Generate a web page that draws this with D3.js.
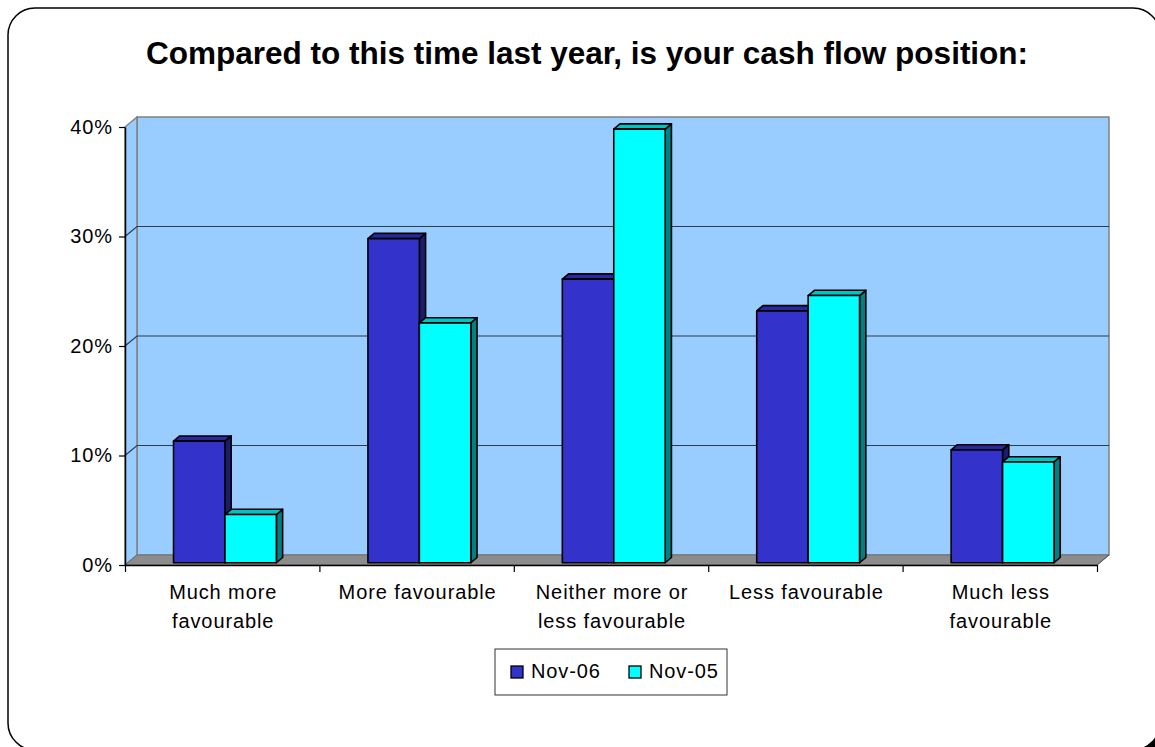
<!DOCTYPE html>
<html>
<head>
<meta charset="utf-8">
<script src="https://cdn.jsdelivr.net/npm/d3@7"></script>
<style>
  html, body { margin: 0; padding: 0; background: #ffffff; }
  svg { display: block; font-family: "Liberation Sans", Arial, sans-serif; }
</style>
</head>
<body>
<svg id="chart" width="1155" height="747"></svg>
<script>
// Survey responses: share of respondents per answer, two survey rounds
const categories = [
  "Much more\nfavourable",
  "More favourable",
  "Neither more or\nless favourable",
  "Less favourable",
  "Much less\nfavourable"
];
const seriesNames = ["Nov-06", "Nov-05"];
const nov06 = [0.111, 0.296, 0.259, 0.230, 0.103];
const nov05 = [0.044, 0.219, 0.396, 0.244, 0.092];
const yTicks = [0, 0.1, 0.2, 0.3, 0.4];

const seriesValues = [nov06, nov05];
const faceColors = {
  "Nov-06": { front: "#3333CC", top: "#29299E", side: "#1C1C6B" },
  "Nov-05": { front: "#00FFFF", top: "#00C4C4", side: "#008080" }
};

const labelSize = 20, labelSpacing = 0.9;

const svg = d3.select("#chart");

// Rounded frame with a small drop shadow
svg.append("rect")
  .attr("x", 12).attr("y", 12).attr("width", 1152).attr("height", 742)
  .attr("rx", 27).attr("fill", "#000");
svg.append("rect")
  .attr("x", 8).attr("y", 8).attr("width", 1152).attr("height", 742)
  .attr("rx", 27).attr("fill", "#fff").attr("stroke", "#000").attr("stroke-width", 1.5);

// Title
svg.append("text")
  .attr("x", 587).attr("y", 64)
  .attr("text-anchor", "middle")
  .attr("font-weight", "bold")
  .attr("font-size", 31.5)
  .text("Compared to this time last year, is your cash flow position:");

// Plot geometry (front plane) and 3-D depth offset
const pL = 125, pR = 1097, pB = 565, pT = 127;
const depth = { dx: 12, dy: -10 };
const barFront = 0.23, barBack = 0.75;   // bar position inside the depth

const x0 = d3.scaleBand().domain(categories).range([pL, pR]).padding(0);
const x1 = d3.scaleBand().domain(seriesNames).range([0, x0.bandwidth()])
  .paddingInner(0).paddingOuter(0.89);
const y = d3.scaleLinear().domain([0, 0.4]).range([pB, pT]);
const edge = d3.scaleLinear().domain([0, categories.length]).range([pL, pR]);

const wallFill = "#99CCFF", wallStroke = "#808080";
const pts = arr => arr.map(p => p.join(",")).join(" ");

// Back wall
svg.append("rect")
  .attr("x", pL + depth.dx).attr("y", pT + depth.dy)
  .attr("width", pR - pL).attr("height", pB - pT)
  .attr("fill", wallFill).attr("stroke", wallStroke).attr("stroke-width", 1.5);

// Side wall
svg.append("polygon")
  .attr("points", pts([[pL, pB], [pL, pT], [pL + depth.dx, pT + depth.dy], [pL + depth.dx, pB + depth.dy]]))
  .attr("fill", wallFill).attr("stroke", wallStroke).attr("stroke-width", 1.5);

// Floor
svg.append("polygon")
  .attr("points", pts([[pL, pB], [pL + depth.dx, pB + depth.dy], [pR + depth.dx, pB + depth.dy], [pR, pB]]))
  .attr("fill", "#8C8C8C").attr("stroke", "#707070").attr("stroke-width", 1);

// Gridlines across side and back walls
const grid = svg.append("g").attr("stroke", "#2E3B4A").attr("stroke-width", 1.2).attr("fill", "none");
yTicks.filter(t => t > 0 && t < 0.4).forEach(t => {
  const yy = y(t);
  grid.append("path").attr("d",
    `M${pL},${yy}L${pL + depth.dx},${yy + depth.dy}L${pR + depth.dx},${yy + depth.dy}`);
});

// Bars drawn as front, top and side faces
const barDx = (barBack - barFront) * depth.dx;
const barDy = (barBack - barFront) * depth.dy;
const offX = barFront * depth.dx, offY = barFront * depth.dy;

categories.forEach((cat, ci) => {
  seriesNames.forEach((s, si) => {
    const v = seriesValues[si][ci];
    const xl = x0(cat) + x1(s) + offX;
    const xr = xl + x1.bandwidth();
    const yt = y(v) + offY;
    const yb = y(0) + offY;
    const c = faceColors[s];
    const g = svg.append("g").attr("stroke", "#000").attr("stroke-width", 1.6)
      .attr("stroke-linejoin", "round");
    g.append("polygon")
      .attr("points", pts([[xr, yt], [xr + barDx, yt + barDy], [xr + barDx, yb + barDy], [xr, yb]]))
      .attr("fill", c.side);
    g.append("polygon")
      .attr("points", pts([[xl, yt], [xl + barDx, yt + barDy], [xr + barDx, yt + barDy], [xr, yt]]))
      .attr("fill", c.top);
    g.append("rect")
      .attr("x", xl).attr("y", yt).attr("width", xr - xl).attr("height", yb - yt)
      .attr("fill", c.front);
  });
});

// Floor right edge
svg.append("line")
  .attr("x1", pR).attr("y1", pB).attr("x2", pR + depth.dx).attr("y2", pB + depth.dy)
  .attr("stroke", "#555").attr("stroke-width", 1);

// Value axis
const yAxis = svg.append("g")
  .attr("transform", `translate(${pL},0)`)
  .call(d3.axisLeft(y).tickValues(yTicks).tickFormat(d3.format(".0%"))
    .tickSize(6).tickSizeOuter(0).tickPadding(6));
yAxis.select(".domain").attr("stroke", "#000").attr("stroke-width", 1.5);
yAxis.selectAll(".tick line").attr("stroke", "#000").attr("stroke-width", 1.2);
yAxis.selectAll(".tick text")
  .attr("font-size", labelSize).attr("font-family", "Liberation Sans, Arial, sans-serif")
  .attr("letter-spacing", labelSpacing).attr("fill", "#000");

// Category axis with tick marks between categories
const xAxis = svg.append("g")
  .attr("transform", `translate(0,${pB})`)
  .call(d3.axisBottom(edge).tickValues(d3.range(categories.length + 1))
    .tickFormat("").tickSize(7).tickSizeOuter(0));
xAxis.select(".domain").attr("stroke", "#000").attr("stroke-width", 1.5);
xAxis.selectAll(".tick line").attr("stroke", "#000").attr("stroke-width", 1.2);

// Category labels
const labels = svg.append("g")
  .attr("font-size", labelSize).attr("letter-spacing", labelSpacing).attr("text-anchor", "middle");
categories.forEach(cat => {
  const cx = x0(cat) + x0.bandwidth() / 2 + 1;
  const t = labels.append("text").attr("x", cx).attr("y", 599);
  cat.split("\n").forEach((line, i) => {
    t.append("tspan").attr("x", cx).attr("dy", i === 0 ? 0 : 29).text(line);
  });
});

// Legend
const legend = svg.append("g");
legend.append("rect")
  .attr("x", 495).attr("y", 649).attr("width", 232).attr("height", 46)
  .attr("fill", "#fff").attr("stroke", "#333").attr("stroke-width", 1);
const legendX = [511, 629];
seriesNames.forEach((s, i) => {
  legend.append("rect")
    .attr("x", legendX[i]).attr("y", 666).attr("width", 12).attr("height", 12)
    .attr("fill", faceColors[s].front).attr("stroke", "#000").attr("stroke-width", 1.3);
  legend.append("text")
    .attr("x", legendX[i] + 20).attr("y", 678)
    .attr("font-size", labelSize).attr("letter-spacing", labelSpacing)
    .text(s);
});
</script>
</body>
</html>
